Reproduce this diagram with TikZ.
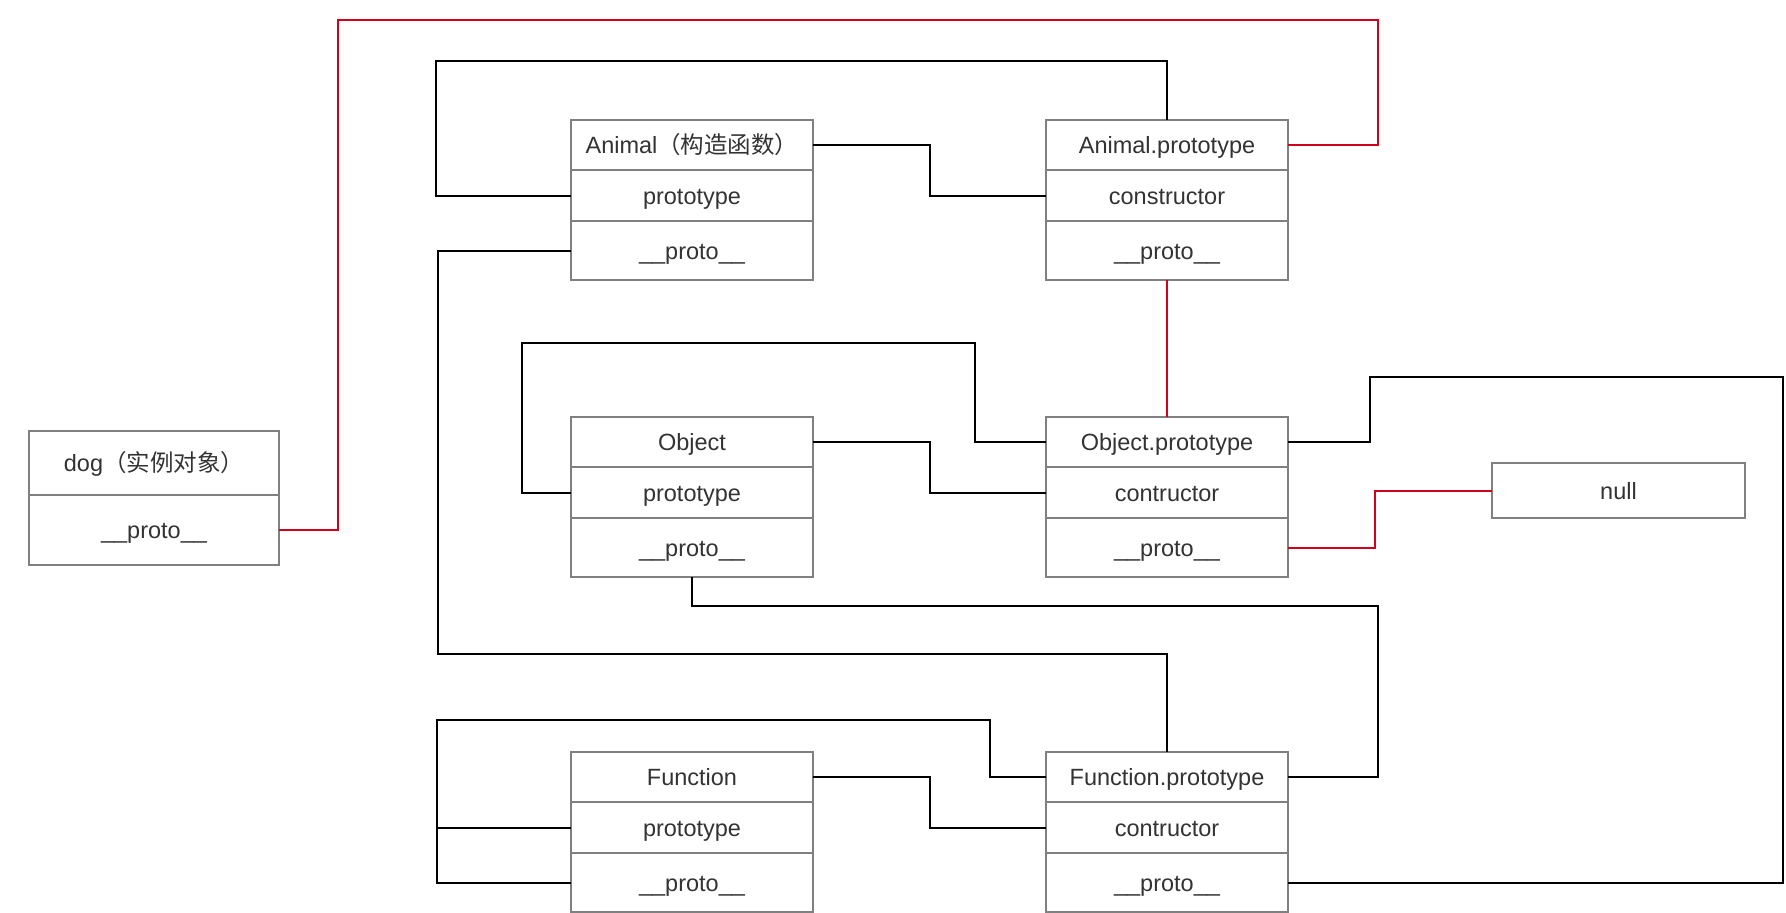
\documentclass[tikz,border=0pt]{standalone}
\usepackage{fontspec}
\setmainfont{Liberation Sans}
\newfontfamily\cjk{Noto Sans CJK SC}
\usetikzlibrary{positioning}
\definecolor{linkred}{HTML}{D0021B}
\definecolor{cellgray}{HTML}{808080}
\definecolor{textgray}{HTML}{333333}
\tikzset{
node distance = 0pt,
   cell/.style = {%
    shape=rectangle,
    draw=cellgray,
    line width=1.1pt,
    fill=white,
    text=textgray,
    inner sep=0pt, outer sep=0pt,
    minimum width=242pt,
    text height=19pt, text depth=2pt,
    align=center,
    font=\fontsize{23.5}{28}\selectfont},
   head/.style = {cell, minimum height=50pt},
   mid/.style = {cell, minimum height=51pt},
   foot/.style = {cell, minimum height=59pt},
   link/.style = {draw=black, line width=2pt},
   redlink/.style = {draw=linkred, line width=2pt},
   redthin/.style = {draw=linkred, line width=1.2pt},
    }

\begin{document}
\begin{tikzpicture}[x=1pt, y=-1pt]
    \useasboundingbox (0,0) rectangle (1786,913);
    % Animal
    \node[head, anchor=north west] (an-t) at (571,120) {Animal{\cjk （构造函数）}};
    \node[mid, below=of an-t] (an-p) {prototype};
    \node[foot, below=of an-p] (an-pr) {\_\_proto\_\_};
    \node[head, anchor=north west] (ap-t) at (1046,120) {Animal.prototype};
    \node[mid, below=of ap-t] (ap-c) {constructor};
    \node[foot, below=of ap-c] (ap-pr) {\_\_proto\_\_};
    % Object
    \node[head, anchor=north west] (ob-t) at (571,417) {Object};
    \node[mid, below=of ob-t] (ob-p) {prototype};
    \node[foot, below=of ob-p] (ob-pr) {\_\_proto\_\_};
    \node[head, anchor=north west] (op-t) at (1046,417) {Object.prototype};
    \node[mid, below=of op-t] (op-c) {contructor};
    \node[foot, below=of op-c] (op-pr) {\_\_proto\_\_};
    % Function
    \node[head, anchor=north west] (fn-t) at (571,752) {Function};
    \node[mid, below=of fn-t] (fn-p) {prototype};
    \node[foot, below=of fn-p] (fn-pr) {\_\_proto\_\_};
    \node[head, anchor=north west] (fp-t) at (1046,752) {Function.prototype};
    \node[mid, below=of fp-t] (fp-c) {contructor};
    \node[foot, below=of fp-c] (fp-pr) {\_\_proto\_\_};
    % dog, null
    \node[cell, minimum width=250pt, minimum height=64pt, anchor=north west] (dog-t) at (29,431) {dog{\cjk （实例对象）}};
    \node[cell, minimum width=250pt, minimum height=70pt, below=of dog-t] (dog-pr) {\_\_proto\_\_};
    \node[cell, minimum width=253pt, minimum height=55pt, anchor=north west] (null) at (1492,463) {null};

    % prototype chain
    \draw[redlink] (dog-pr.east) -| (338,20) -| ([xshift=90]ap-t.east) -- (ap-t.east);
    \draw[redthin] (ap-pr.south) -- (op-t.north);
    \draw[redlink] (op-pr.east) -- ++(87,0) |- (null.west);

    \draw[link] (an-p.west) -| (436,61) -| (ap-t.north);
    \draw[link] (an-t.east) -- ++(117,0) |- (ap-c.west);
    \draw[link] (an-pr.west) -| (438,654) -| (fp-t.north);

    \draw[link] (ob-p.west) -| (522,343) -| ([xshift=-71]op-t.west) -- (op-t.west);
    \draw[link] (ob-t.east) -- ++(117,0) |- (op-c.west);
    \draw[link] (op-t.east) -| (1370,377) -| ([xshift=495]fp-pr.east) -- (fp-pr.east);
    \draw[link] (ob-pr.south) -- ++(0,29) -| ([xshift=90]fp-t.east) -- (fp-t.east);

    \draw[link] (fn-p.west) -| (437,720) -| ([xshift=-56]fp-t.west) -- (fp-t.west);
    \draw[link] (fn-pr.west) -- ++(-134,0) |- (fn-p.west);
    \draw[link] (fn-t.east) -- ++(117,0) |- (fp-c.west);
\end{tikzpicture}
\end{document}
